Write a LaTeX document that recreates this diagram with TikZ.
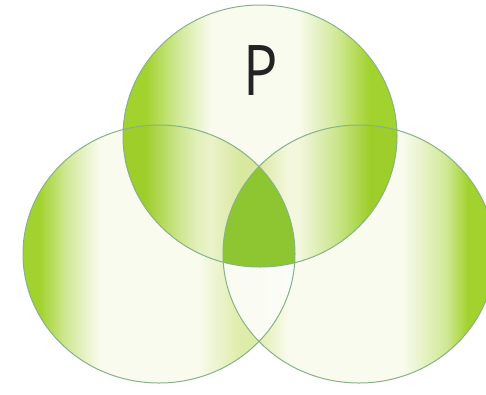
\documentclass[tikz,border=0pt]{standalone}
\usepackage{fontspec}
\newfontfamily\labelfont{Open Sans}
\definecolor{vg}{RGB}{162,210,45}
\colorlet{vgm}{vg!50!white}
\definecolor{vgl}{RGB}{222,236,170}
\definecolor{vpale}{RGB}{249,251,238}
\definecolor{vline}{RGB}{135,178,135}
\definecolor{vtri}{RGB}{142,198,50}
\definecolor{vtext}{RGB}{35,35,35}
\pgfdeclarehorizontalshading{topshade}{100bp}{color(0bp)=(vg); color(25bp)=(vg); color(29bp)=(vg); color(35bp)=(vgm); color(41bp)=(vpale); color(57bp)=(vpale); color(64bp)=(vgm); color(70bp)=(vg); color(75bp)=(vg); color(100bp)=(vg)}
\pgfdeclarehorizontalshading{leftshade}{100bp}{color(0bp)=(vg); color(25bp)=(vg); color(28bp)=(vg); color(33bp)=(vgm); color(39bp)=(vpale); color(57bp)=(vpale); color(65bp)=(vgl); color(75bp)=(vgl); color(100bp)=(vgl)}
\pgfdeclarehorizontalshading{rightshade}{100bp}{color(0bp)=(vgl); color(25bp)=(vgl); color(31bp)=(vgl); color(37bp)=(vpale); color(58bp)=(vpale); color(66bp)=(vgm); color(70bp)=(vg); color(75bp)=(vg); color(100bp)=(vg)}
\tikzset{
  vring/.style={draw=vline, line width=1pt},
}
\begin{document}
\begin{tikzpicture}[x=1pt,y=-1pt]
\useasboundingbox (0,0) rectangle (486,394);
\fill[white] (0,0) rectangle (486,394);
\coordinate (T) at (260,136);
\coordinate (L) at (159,254);
\coordinate (R) at (359,254);
\begin{scope}[blend mode=multiply]
  \shade[shading=leftshade] (L) ellipse [x radius=136pt, y radius=129pt];
  \shade[shading=rightshade] (R) ellipse [x radius=136pt, y radius=129pt];
  \shade[shading=topshade] (T) ellipse [x radius=137pt, y radius=131pt];
\end{scope}
% lower lens (left and right, outside top) kept pale
\begin{scope}
  \clip (L) ellipse [x radius=136pt, y radius=129pt];
  \clip (R) ellipse [x radius=136pt, y radius=129pt];
  \fill[white, opacity=0.92, even odd rule] (0,0) rectangle (486,394) (T) ellipse [x radius=137pt, y radius=131pt];
\end{scope}
% triple intersection
\begin{scope}
  \clip (L) ellipse [x radius=136pt, y radius=129pt];
  \clip (R) ellipse [x radius=136pt, y radius=129pt];
  \fill[vtri] (T) ellipse [x radius=137pt, y radius=131pt];
\end{scope}
\draw[vring] (L) ellipse [x radius=136pt, y radius=129pt];
\draw[vring] (R) ellipse [x radius=136pt, y radius=129pt];
\draw[vring] (T) ellipse [x radius=137pt, y radius=131pt];
\node[inner sep=0pt, text=vtext, xscale=0.82, transform shape, font=\labelfont\fontsize{70}{70}\selectfont] (p) at (261,71) {P};
\end{tikzpicture}
\end{document}
